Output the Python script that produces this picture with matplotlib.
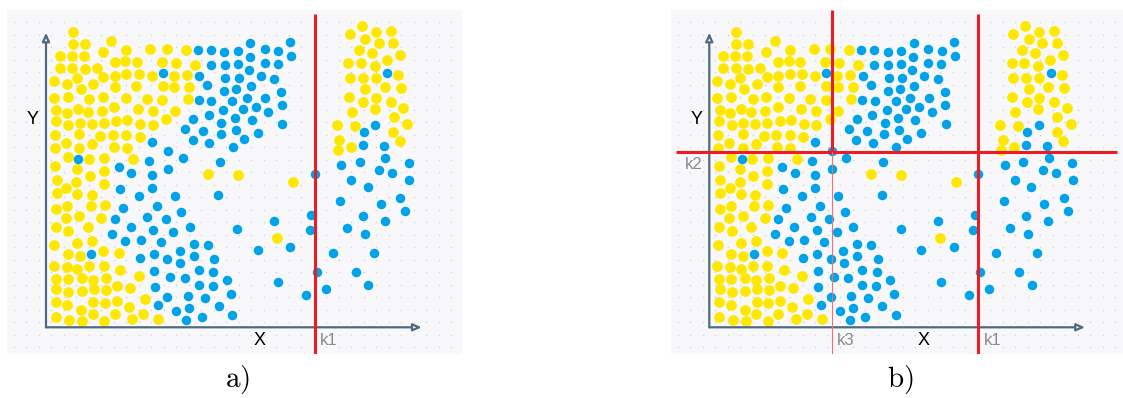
import numpy as np
import matplotlib
matplotlib.use('Agg')
import matplotlib.pyplot as plt

plt.rcParams['font.family'] = ['Liberation Sans', 'DejaVu Sans']
plt.rcParams['mathtext.fontset'] = 'cm'

# ---------------------------------------------------
# data: two classes of points (same set in both panels)
# ---------------------------------------------------
amarelo_x = [80, 80, 117, 196, 42, 78, 114, 170, 241, 313, 362, 420,
             42, 79, 117, 152, 206, 238, 273, 348, 390, 447,
             23, 62, 93, 104, 142, 172, 207, 241, 278, 318, 383, 423,
             207, 271, 350, 385, 430,
             23, 66, 130, 171, 240, 303, 349, 425,
             31, 62, 95, 126, 168, 205, 275, 320, 387,
             361, 30, 67, 102, 138, 174, 211, 244, 283, 320,
             27, 59, 100, 163, 200, 241, 281,
             26, 100, 139, 204, 243,
             65, 128, 175, 262,
             28, 93, 174, 131,
             32, 91, 61, 173,
             32, 94, 138,
             31, 64, 135, 176,
             59, 100, 166,
             30, 67, 126,
             25, 94, 139,
             66, 102, 172, 219,
             23, 63, 94, 130, 173, 223,
             30, 66, 107, 141, 179, 278,
             31, 67, 107, 143, 179, 212, 251,
             29, 64, 106, 142, 177, 213, 249, 297,
             29, 70, 109, 140, 175, 206, 259, 292, 337,
             485, 576, 741, 692,
             947, 912, 990, 1035, 958, 999, 1042, 938, 977, 1062,
             907, 944, 987, 1022, 912, 950, 989, 1057, 958, 1017, 1064,
             909, 952, 990, 1035, 917, 987, 1072, 1044, 872, 927, 1084,
             1042, 880, 914, 875, 1062]
amarelo_y = [886, 850, 850, 860, 814, 814, 814, 827, 832, 834, 835, 831,
             777, 777, 774, 779, 796, 799, 796, 796, 793, 788,
             740, 731, 747, 715, 729, 751, 755, 761, 761, 754, 755, 757,
             721, 724, 724, 720, 722,
             689, 691, 686, 691, 687, 685, 683, 686,
             652, 644, 656, 646, 649, 662, 654, 648, 648,
             625, 618, 607, 614, 611, 614, 618, 623, 610, 608,
             578, 554, 579, 574, 577, 577, 570,
             539, 539, 550, 541, 537,
             510, 506, 507, 504,
             485, 474, 468, 455,
             442, 435, 418, 429,
             403, 399, 398,
             356, 363, 365, 368,
             327, 335, 327,
             300, 288, 301,
             247, 254, 259,
             219, 215, 228, 222,
             185, 181, 176, 184, 184, 172,
             145, 146, 149, 142, 149, 154,
             116, 107, 108, 114, 111, 123, 119,
             76, 68, 52, 77, 73, 79, 62, 85,
             32, 22, 20, 39, 20, 41, 25, 41, 25,
             461, 457, 435, 269,
             905, 880, 887, 889, 866, 852, 852, 831, 823, 817,
             794, 794, 784, 801, 749, 749, 749, 756, 714, 721, 719,
             691, 677, 687, 677, 647, 655, 658, 632, 606, 605, 610,
             587, 562, 542, 532, 558]

azul_x = [456, 494, 535, 575, 613, 657, 697, 733, 736,
          494, 536, 576, 612, 608, 657, 696,
          351, 460, 538, 578, 645, 685,
          484, 535, 571, 615, 706,
          459, 496, 559, 602, 658,
          532, 591, 629, 667, 707,
          442, 488, 567, 617, 526,
          418, 472, 524, 569, 709,
          440, 490, 593, 636, 561,
          318, 367, 410, 522,
          97, 308, 367, 218, 256, 317,
          221, 278, 318, 387, 517,
          332, 230, 304, 359, 406,
          207, 254, 322, 382, 431, 574,
          198, 238, 285, 344, 444, 486,
          135, 323, 282, 364, 401, 444, 505,
          403, 325, 373, 417, 459, 502,
          327, 459, 500, 542,
          364, 425, 477, 555,
          336, 391, 430, 518, 559, 421, 467,
          685, 636, 733, 696,
          807, 796, 791, 812, 840, 780,
          1024, 988, 954, 951, 1014, 1018, 886, 941, 1000, 1039, 1088,
          916, 966, 1090, 883, 1005, 1063, 1076,
          950, 1017, 902, 956, 860, 984, 930, 967]
azul_y = [831, 832, 826, 830, 852, 836, 830, 855, 814,
          788, 788, 790, 810, 773, 793, 789,
          763, 753, 748, 749, 753, 746,
          726, 708, 714, 723, 707,
          683, 679, 679, 687, 689,
          653, 654, 662, 647, 666,
          626, 637, 627, 621, 614,
          594, 588, 579, 593, 611,
          563, 553, 565, 583, 541,
          557, 530, 508, 496,
          504, 500, 474, 480, 463, 456,
          416, 395, 418, 394, 397,
          365, 357, 331, 325, 345,
          325, 300, 292, 286, 300, 295,
          280, 260, 263, 256, 251, 248,
          221, 220, 208, 205, 230, 213, 205,
          192, 169, 152, 147, 172, 166,
          121, 128, 123, 141,
          92, 95, 88, 99,
          66, 48, 58, 63, 37, 23, 31,
          318, 233, 241, 137,
          461, 338, 293, 165, 114, 97,
          763, 608, 587, 548, 544, 508, 486, 495, 472, 462, 493,
          441, 422, 442, 380, 371, 387, 350,
          334, 319, 298, 280, 223, 222, 165, 127]

# split positions
k1 = 807
k2 = 527
k3 = 369

# length of the drawn X and Y axes
fim_x = 1127
fim_y = 884

cor_amarelo = '#ffe800'
cor_azul = '#00a2e8'
cor_vermelho = '#ed1c24'
cor_eixo = '#4d6a80'
cor_fundo = '#f8f8fa'
cor_k = '#8a8a8a'

# ---------------------------------------------------
# figure: two panels side by side
# ---------------------------------------------------
W, H = 1123, 398
fig = plt.figure(figsize=(W / 100, H / 100), dpi=100)

ESC = 3.0              # data units per pixel
TOPO, BASE = 10, 354   # grey box, pixels from top
ORIGEM_Y = 327.3


def criar_painel(esq, dir, origem_x):
    ax = fig.add_axes([esq / W, 1 - BASE / H, (dir - esq) / W, (BASE - TOPO) / H])
    ax.set_xlim((esq - origem_x) * ESC, (dir - origem_x) * ESC)
    ax.set_ylim((ORIGEM_Y - BASE) * ESC, (ORIGEM_Y - TOPO) * ESC)
    ax.set_facecolor(cor_fundo)
    for s in ax.spines.values():
        s.set_visible(False)
    ax.set_xticks([])
    ax.set_yticks([])

    # dotted background grid
    x0, x1 = ax.get_xlim()
    y0, y1 = ax.get_ylim()
    gx, gy = np.meshgrid(np.arange(x0 + 20, x1, 37.5), np.arange(y0 + 20, y1, 37.5))
    ax.scatter(gx.ravel(), gy.ravel(), s=1.3, color='#d2d2d8', lw=0, zorder=0)

    ax.scatter(amarelo_x, amarelo_y, s=60, color=cor_amarelo, lw=0, zorder=2)
    ax.scatter(azul_x, azul_y, s=47, color=cor_azul, lw=0, zorder=2)

    # axes with open arrow heads
    seta = dict(arrowstyle='-|>,head_length=0.5,head_width=0.22', ec=cor_eixo,
                fc=cor_fundo, lw=1.6, shrinkA=0, shrinkB=0)
    ax.annotate('', xy=(fim_x, 0), xytext=(0, 0), arrowprops=seta, zorder=3)
    ax.annotate('', xy=(0, fim_y), xytext=(0, 0), arrowprops=seta, zorder=3)

    ax.text(642, -40, 'X', fontsize=13, ha='center', va='center')
    ax.text(-39, 622, 'Y', fontsize=13, ha='center', va='center')
    return ax


# ---------------------------------------------------
# panel a) one vertical split
# ---------------------------------------------------
ax_a = criar_painel(7, 462, 46)
y0, y1 = ax_a.get_ylim()
ax_a.plot([k1, k1], [y0, 940], color=cor_vermelho, lw=2.2, zorder=4, solid_capstyle='butt')
ax_a.text(k1 + 40, -40, 'k1', color=cor_k, fontsize=12, ha='center', va='center')
fig.text(237 / W, 1 - 380 / H, r'$\mathrm{a)}$', fontsize=21, ha='center', va='center')

# ---------------------------------------------------
# panel b) k1, then k2 on the left side, then k3 above k2
# ---------------------------------------------------
ax_b = criar_painel(671, 1123, 709.3)
y0, y1 = ax_b.get_ylim()
ax_b.plot([k1, k1], [y0, 940], color=cor_vermelho, lw=2.2, zorder=4, solid_capstyle='butt')
ax_b.plot([-100, 1223], [k2, k2], color=cor_vermelho, lw=2.2, zorder=4, solid_capstyle='butt')
ax_b.plot([k3, k3], [k2, y1], color=cor_vermelho, lw=2.2, zorder=4, solid_capstyle='butt')
ax_b.plot([k3, k3], [y0, k2], color='#f07078', lw=0.8, zorder=4)
ax_b.text(k1 + 44, -40, 'k1', color=cor_k, fontsize=12, ha='center', va='center')
ax_b.text(k3 + 40, -40, 'k3', color=cor_k, fontsize=12, ha='center', va='center')
ax_b.text(-46, k2 - 40, 'k2', color=cor_k, fontsize=12, ha='center', va='center')
fig.text(900 / W, 1 - 380 / H, r'$\mathrm{b)}$', fontsize=21, ha='center', va='center')

plt.savefig('out.png', dpi=100, facecolor='white')
